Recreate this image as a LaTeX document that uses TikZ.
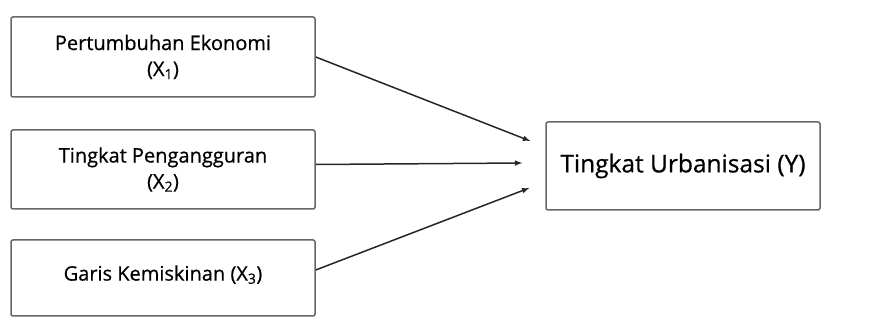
\documentclass[tikz,border=0pt]{standalone}
\usepackage{fontspec}
\setmainfont{Open Sans}[FakeBold=0.6]

\begin{document}
\begin{tikzpicture}[x=1pt,y=1pt,
  kotak/.style={draw=black!60,line width=1.5pt,rounded corners=2pt,align=center,
    font=\fontsize{20}{26}\selectfont,text=black,inner sep=0pt},
  panah/.style={line width=1.5pt,draw=black!85,-latex}]
\useasboundingbox (0,0) rectangle (880,329);
\node[kotak,minimum width=304pt,minimum height=80pt] (x1) at (163,272)
  {Pertumbuhan Ekonomi\\(X\textsubscript{1})};
\node[kotak,minimum width=304pt,minimum height=79pt] (x2) at (163,159.5)
  {Tingkat Pengangguran\\(X\textsubscript{2})};
\node[kotak,minimum width=304pt,minimum height=76pt] (x3) at (163,51)
  {\raisebox{10pt}{Garis Kemiskinan (X\textsubscript{3})}};
\node[kotak,minimum width=274pt,minimum height=88pt,font=\fontsize{24.5}{30}\selectfont] (y) at (683,163)
  {Tingkat Urbanisasi (Y)};
%\draw[help lines] (0,0) grid[step=50] (880,329);
\coordinate (y1) at ([xshift=-15pt,yshift=25pt]y.west);
\coordinate (y2) at ([xshift=-23pt,yshift=3pt]y.west);
\coordinate (y3) at ([xshift=-16pt,yshift=-22pt]y.west);
\draw[panah] (x1.east) -- (y1);
\draw[panah] ([yshift=5pt]x2.east) -- (y2);
\draw[panah] ([yshift=8pt]x3.east) -- (y3);
\end{tikzpicture}
\end{document}
